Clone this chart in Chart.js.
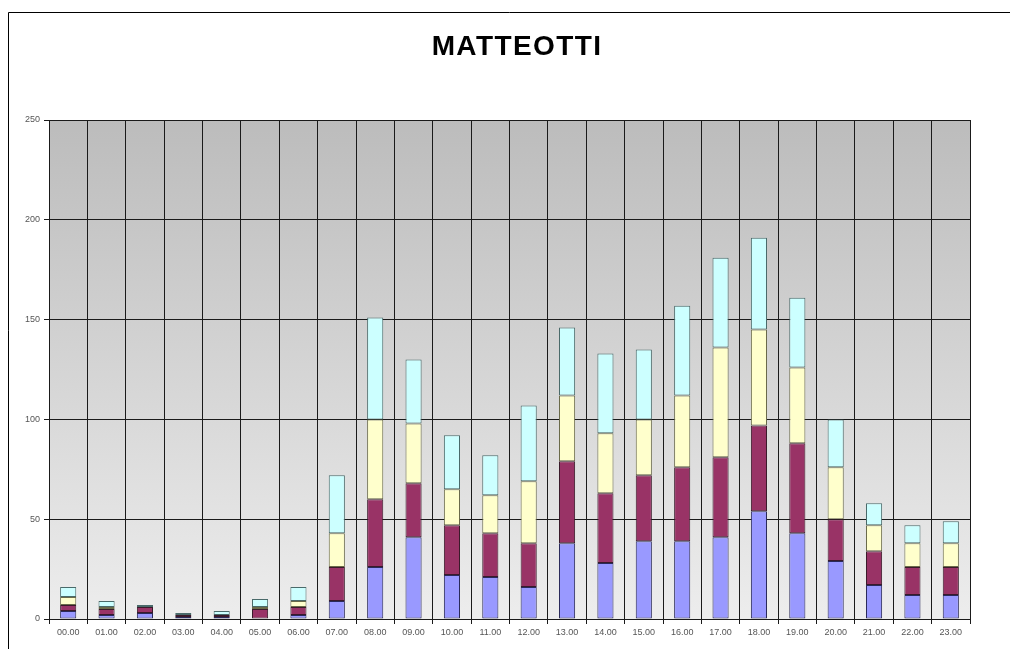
<!DOCTYPE html>
<html>
<head>
<meta charset="utf-8">
<title>MATTEOTTI</title>
<script src="https://cdn.jsdelivr.net/npm/chart.js@4/dist/chart.umd.min.js"></script>
<style>
  html, body { margin: 0; padding: 0; background: #fff; }
  canvas { display: block; }
</style>
</head>
<body>
<canvas id="chart" width="1010" height="649"></canvas>
<script>
// Fasce orarie
const ore = ['00.00', '01.00', '02.00', '03.00', '04.00', '05.00', '06.00', '07.00',
             '08.00', '09.00', '10.00', '11.00', '12.00', '13.00', '14.00', '15.00',
             '16.00', '17.00', '18.00', '19.00', '20.00', '21.00', '22.00', '23.00'];

// Valori per serie (dal basso verso l'alto)
const serieBlu    = [4, 2, 3, 1, 1, 0, 2, 9, 26, 41, 22, 21, 16, 38, 28, 39, 39, 41, 54, 43, 29, 17, 12, 12];
const serieBordo  = [3, 3, 3, 1, 1, 5, 4, 17, 34, 27, 25, 22, 22, 41, 35, 33, 37, 40, 43, 45, 21, 17, 14, 14];
const serieGiallo = [4, 1, 0, 0, 0, 1, 3, 17, 40, 30, 18, 19, 31, 33, 30, 28, 36, 55, 48, 38, 26, 13, 12, 12];
const serieAzzurro = [5, 3, 1, 1, 2, 4, 7, 29, 51, 32, 27, 20, 38, 34, 40, 35, 45, 45, 46, 35, 24, 11, 9, 11];

const tickY = [0, 50, 100, 150, 200, 250];
const titolo = 'MATTEOTTI';

// Sfondo sfumato dell'area del grafico + cornice esterna
const sfondo = {
    id: 'sfondo',
    beforeDraw(chart) {
        const ctx = chart.ctx;
        const a = chart.chartArea;
        ctx.save();
        ctx.strokeStyle = '#000';
        ctx.lineWidth = 1;
        ctx.beginPath();
        ctx.moveTo(8.5, 649);
        ctx.lineTo(8.5, 12.5);
        ctx.lineTo(1010, 12.5);
        ctx.stroke();
        const g = ctx.createLinearGradient(0, a.top, 0, a.bottom);
        g.addColorStop(0, '#bcbcbc');
        g.addColorStop(1, '#ededed');
        ctx.fillStyle = g;
        ctx.fillRect(a.left, a.top, a.right - a.left, a.bottom - a.top);
        ctx.restore();
    }
};

// Titolo (un po' spaziato, centrato come nell'originale)
const titoloPlugin = {
    id: 'titolo',
    afterDraw(chart) {
        const ctx = chart.ctx;
        ctx.save();
        ctx.font = 'bold 28px "Liberation Sans"';
        ctx.letterSpacing = '1.4px';
        ctx.fillStyle = '#000';
        ctx.textAlign = 'center';
        ctx.textBaseline = 'middle';
        ctx.fillText(titolo, 517, 47);
        ctx.restore();
    }
};

const ctx = document.getElementById('chart').getContext('2d');

new Chart(ctx, {
    type: 'bar',
    data: {
        labels: ore,
        datasets: [
            { label: 'Serie 1', data: serieBlu, backgroundColor: '#9999FF', borderColor: '#2a2a5a' },
            { label: 'Serie 2', data: serieBordo, backgroundColor: '#993366', borderColor: '#3a1a2a' },
            { label: 'Serie 3', data: serieGiallo, backgroundColor: '#FFFFCC', borderColor: '#6a6a4a' },
            { label: 'Serie 4', data: serieAzzurro, backgroundColor: '#CCFFFF', borderColor: '#4a6a6a' }
        ].map(d => Object.assign(d, {
            borderWidth: 1,
            borderSkipped: false,
            barPercentage: 0.42,
            categoryPercentage: 1
        }))
    },
    options: {
        responsive: false,
        animation: false,
        layout: {
            padding: { left: 8, right: 40, top: 120, bottom: 0 }
        },
        plugins: {
            legend: { display: false },
            tooltip: { enabled: false },
            title: { display: false }
        },
        scales: {
            x: {
                stacked: true,
                afterFit: function(s) { s.height = 30; },
                grid: { color: '#1a1a1a', lineWidth: 1, offset: true, tickLength: 5 },
                border: { color: '#1a1a1a' },
                ticks: {
                    autoSkip: false,
                    maxRotation: 0,
                    padding: 3,
                    color: '#555',
                    font: { family: 'Liberation Sans', size: 9 }
                }
            },
            y: {
                stacked: true,
                min: 0,
                max: 250,
                afterFit: function(s) { s.width = 41; },
                afterBuildTicks: function(s) { s.ticks = tickY.map(v => ({ value: v })); },
                grid: { color: '#1a1a1a', lineWidth: 1, tickLength: 5 },
                border: { color: '#1a1a1a' },
                ticks: {
                    padding: 4,
                    color: '#555',
                    font: { family: 'Liberation Sans', size: 9 }
                }
            }
        }
    },
    plugins: [sfondo, titoloPlugin]
});
</script>
</body>
</html>
